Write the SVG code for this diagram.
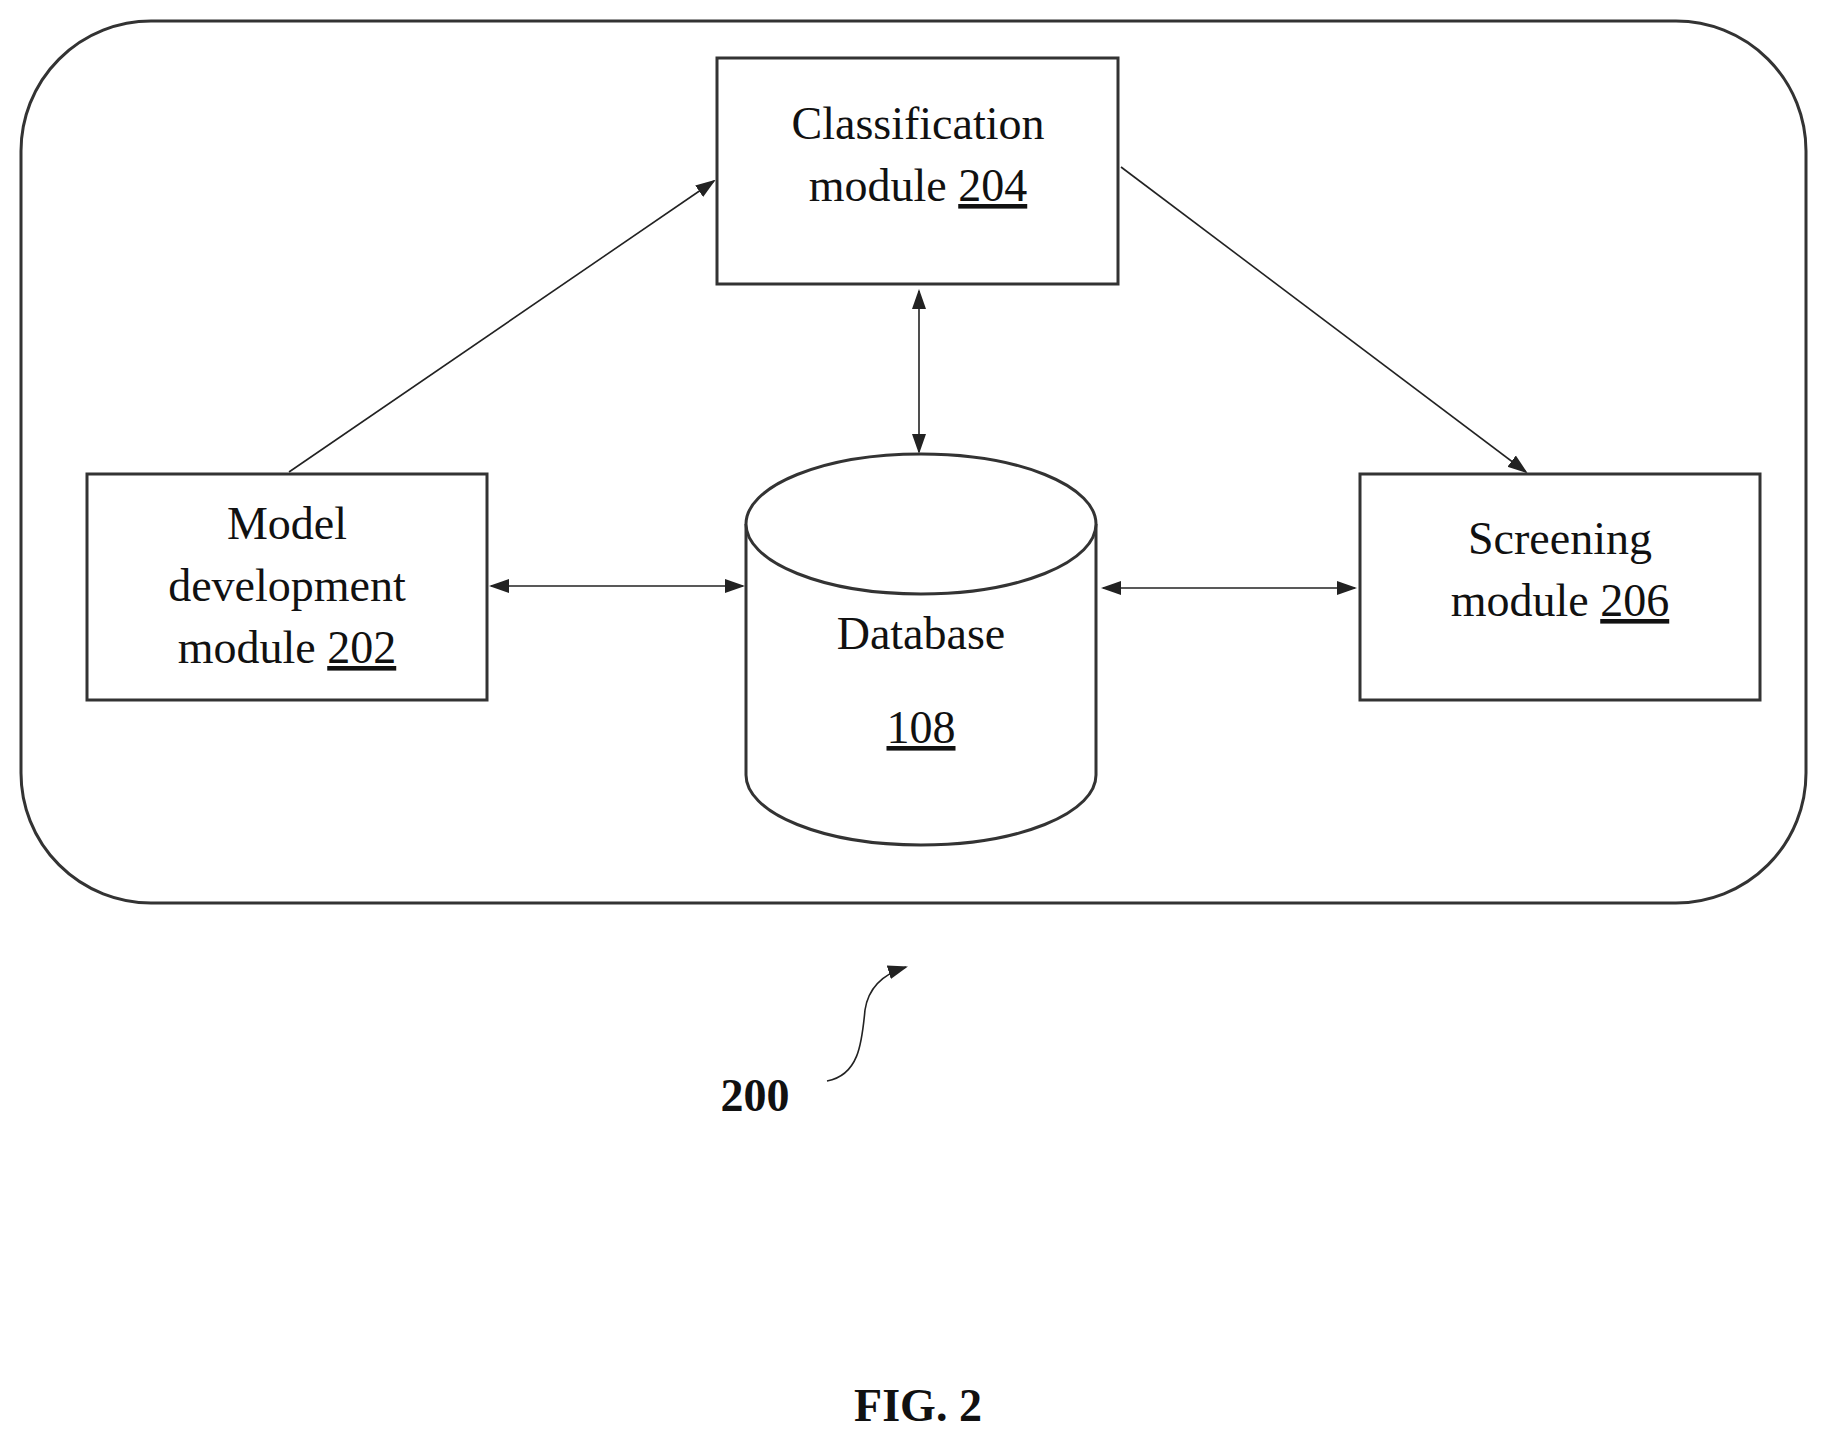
<svg xmlns="http://www.w3.org/2000/svg" width="1827" height="1442" viewBox="0 0 1827 1442">
<defs>
<marker id="ah" viewBox="0 0 10 10" refX="9" refY="5" markerWidth="20" markerHeight="20" markerUnits="userSpaceOnUse" orient="auto-start-reverse"><path d="M0,1.5 L10,5 L0,8.5 z" fill="#222"/></marker>
<style>
.b{fill:#fff;stroke:#333;stroke-width:3}
.t{font-family:"Liberation Serif",serif;font-size:46px;fill:#111;text-anchor:middle}
.c{stroke:#222;stroke-width:1.6;fill:none;marker-end:url(#ah)}
.d{marker-start:url(#ah)}
</style>
</defs>
<rect x="0" y="0" width="1827" height="1442" fill="#fff"/>
<rect id="system" x="21" y="21" width="1785" height="882" rx="130" ry="130" fill="none" stroke="#333" stroke-width="3"/>
<g id="connectors">
<line class="c" x1="289" y1="472" x2="714" y2="181"/>
<line class="c" x1="1121" y1="167" x2="1526" y2="472"/>
<line class="c d" x1="919" y1="291" x2="919" y2="452"/>
<line class="c d" x1="491" y1="586" x2="743" y2="586"/>
<line class="c d" x1="1103" y1="588" x2="1355" y2="588"/>
<path class="c" d="M827,1081 C860,1075 862,1040 865,1010 C868,990 880,975 906,967"/>
</g>
<g id="n204"><rect class="b" x="717" y="58" width="401" height="226"/>
<text class="t" x="918" y="139">Classification</text>
<text class="t" x="918" y="201">module <tspan text-decoration="underline">204</tspan></text></g>
<g id="n202"><rect class="b" x="87" y="474" width="400" height="226"/>
<text class="t" x="287" y="539">Model</text>
<text class="t" x="287" y="601">development</text>
<text class="t" x="287" y="663">module <tspan text-decoration="underline">202</tspan></text></g>
<g id="n206"><rect class="b" x="1360" y="474" width="400" height="226"/>
<text class="t" x="1560" y="554">Screening</text>
<text class="t" x="1560" y="616">module <tspan text-decoration="underline">206</tspan></text></g>
<g id="n108">
<path class="b" d="M746,524 L746,775 A175,70 0 0 0 1096,775 L1096,524"/>
<ellipse class="b" cx="921" cy="524" rx="175" ry="70"/>
<text class="t" x="921" y="649">Database</text>
<text class="t" x="921" y="743" text-decoration="underline">108</text></g>
<g id="labels">
<text class="t" x="755" y="1111" font-weight="bold">200</text>
<text class="t" x="918" y="1421" font-weight="bold">FIG. 2</text>
</g>
</svg>
